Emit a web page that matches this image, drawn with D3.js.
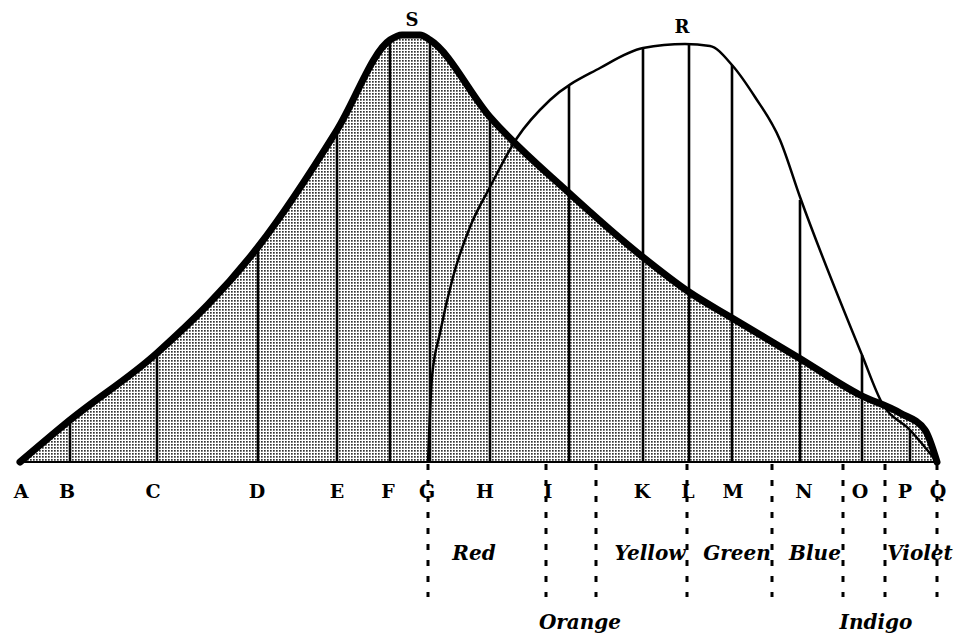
<!DOCTYPE html>
<html>
<head>
<meta charset="utf-8">
<script src="https://cdn.jsdelivr.net/npm/d3@7"></script>
<style>
  body { margin: 0; background: #fff; }
  text { fill: #000; }
</style>
</head>
<body>
<svg id="chart" width="956" height="641"></svg>
<script>
// distances along the spectrum (from A) and ordinates above the base line
const sPos = [0, 50, 137, 238, 317, 370, 382, 400, 410, 470, 548, 624, 669, 712, 779, 840, 880, 905, 917];
const sVal = [0, 42, 109, 215, 332, 422, 427, 427, 422, 345, 270, 204, 170, 144, 104, 67, 49, 32, 0];

const rPos = [408, 412, 420, 433, 450, 470, 497, 530, 580, 623, 665, 690, 712, 735, 760, 780, 842, 862, 890, 917];
const rVal = [0, 85, 129, 185, 235, 275, 324, 362, 394, 414, 418, 416, 397, 365, 322, 265, 107, 59, 32, 0];

// measured ordinates
const ordPos = [50, 137, 238, 317, 370, 410, 470, 549, 623, 669, 712, 780, 842, 890];
const ordVal = [42, 109, 215, 332, 422, 424, 345, 376, 414, 417, 397, 262, 107, 32];

// letters under the base line
const letters = ['A', 'B', 'C', 'D', 'E', 'F', 'G', 'H', 'I', 'K', 'L', 'M', 'N', 'O', 'P', 'Q'];
const letterPos = [1, 47, 133, 237, 317, 368, 407, 465, 528, 622, 668, 713, 784, 840, 885, 918];

// boundaries of the prismatic colours
const bandPos = [408, 526, 576, 667, 752, 823, 865, 917];
const colours = ['Red', 'Orange', 'Yellow', 'Green', 'Blue', 'Indigo', 'Violet'];
const colourPos = [454, 560, 630, 717, 795, 856, 900];
const colourRow = [0, 1, 0, 0, 0, 1, 0];

const svg = d3.select('#chart');

const x = d3.scaleLinear().domain([0, 917]).range([20, 937]);
const y = d3.scaleLinear().domain([0, 427]).range([462, 35]);

// stipple pattern for the area under S
const defs = svg.append('defs');
const pat = defs.append('pattern')
  .attr('id', 'stipple')
  .attr('width', 3)
  .attr('height', 3)
  .attr('patternUnits', 'userSpaceOnUse');
pat.append('rect').attr('width', 3).attr('height', 3).attr('fill', '#fff');
pat.append('rect').attr('x', 0).attr('y', 0).attr('width', 1.7).attr('height', 1.7).attr('fill', '#333');

const sData = sPos.map((p, i) => [p, sVal[i]]);
const rData = rPos.map((p, i) => [p, rVal[i]]);

const curve = d3.curveMonotoneX;

const area = d3.area()
  .x((d) => x(d[0]))
  .y0(y(0))
  .y1((d) => y(d[1]))
  .curve(curve);

const line = d3.line()
  .x((d) => x(d[0]))
  .y((d) => y(d[1]))
  .curve(curve);

svg.append('path')
  .datum(sData)
  .attr('d', area)
  .attr('fill', 'url(#stipple)');

// dashed colour boundaries
svg.append('g')
  .selectAll('line')
  .data(bandPos)
  .join('line')
  .attr('x1', (d) => x(d))
  .attr('x2', (d) => x(d))
  .attr('y1', y(0) + 2)
  .attr('y2', 597)
  .attr('stroke', '#000')
  .attr('stroke-width', 3)
  .attr('stroke-dasharray', '6,10');

// ordinates
svg.append('g')
  .selectAll('line')
  .data(ordPos)
  .join('line')
  .attr('x1', (d) => x(d))
  .attr('x2', (d) => x(d))
  .attr('y1', y(0))
  .attr('y2', (d, i) => y(ordVal[i]))
  .attr('stroke', '#000')
  .attr('stroke-width', 2.6);

// base line
svg.append('line')
  .attr('x1', x(0))
  .attr('x2', x(917))
  .attr('y1', y(0))
  .attr('y2', y(0))
  .attr('stroke', '#000')
  .attr('stroke-width', 2);

// R curve
svg.append('path')
  .datum(rData)
  .attr('d', line)
  .attr('fill', 'none')
  .attr('stroke', '#000')
  .attr('stroke-width', 2.5)
  .attr('stroke-linejoin', 'round');

// S curve
svg.append('path')
  .datum(sData)
  .attr('d', line)
  .attr('fill', 'none')
  .attr('stroke', '#000')
  .attr('stroke-width', 7)
  .attr('stroke-linecap', 'round')
  .attr('stroke-linejoin', 'round');

const letterFont = '"DejaVu Serif", serif';

svg.append('g')
  .selectAll('text')
  .data(letters)
  .join('text')
  .attr('x', (d, i) => x(letterPos[i]))
  .attr('y', 498)
  .attr('text-anchor', 'middle')
  .attr('font-family', letterFont)
  .attr('font-weight', 'bold')
  .attr('font-size', 19)
  .text((d) => d);

// peak labels
const peakS = d3.maxIndex(sVal);
svg.append('text')
  .attr('x', x(392))
  .attr('y', y(sVal[peakS]) - 9)
  .attr('text-anchor', 'middle')
  .attr('font-family', letterFont)
  .attr('font-weight', 'bold')
  .attr('font-size', 18)
  .text('S');

const peakR = d3.maxIndex(rVal);
svg.append('text')
  .attr('x', x(662))
  .attr('y', y(rVal[peakR]) - 11)
  .attr('text-anchor', 'middle')
  .attr('font-family', letterFont)
  .attr('font-weight', 'bold')
  .attr('font-size', 18)
  .text('R');

// colour names
svg.append('g')
  .selectAll('text')
  .data(colours)
  .join('text')
  .attr('x', (d, i) => x(colourPos[i]))
  .attr('y', (d, i) => colourRow[i] ? 629 : 560)
  .attr('text-anchor', 'middle')
  .attr('font-family', letterFont)
  .attr('font-style', 'italic')
  .attr('font-weight', 'bold')
  .attr('font-size', 20)
  .text((d) => d);
</script>
</body>
</html>
